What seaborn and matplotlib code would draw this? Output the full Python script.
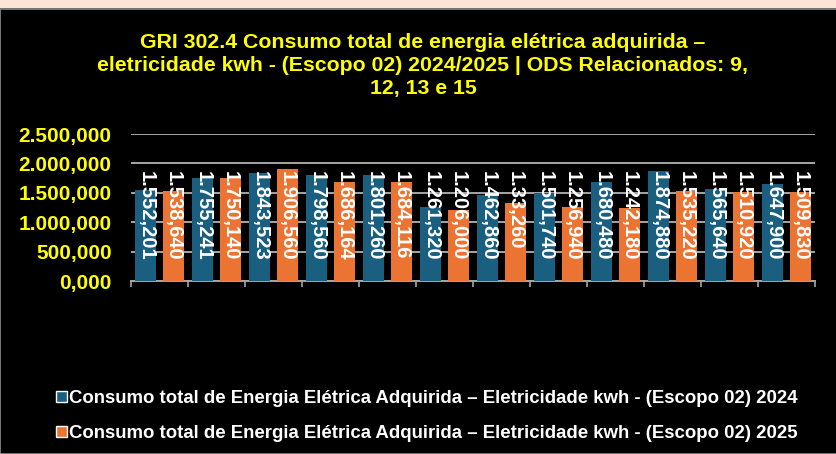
#!/usr/bin/env python3
"""GRI 302.4 - consumo de energia eletrica adquirida, 2024 x 2025."""

import matplotlib

matplotlib.use("Agg")
import matplotlib.pyplot as plt
import pandas as pd
import seaborn as sns
from matplotlib.patches import Patch, Rectangle

# dados (12 periodos)
periods = list(range(1, 13))
kwh_2024 = [1552201, 1755241, 1843523, 1798560, 1801260, 1261320,
            1462860, 1501740, 1680480, 1874880, 1565640, 1647900]
kwh_2025 = [1538640, 1750140, 1906560, 1686164, 1684116, 1206000,
            1333260, 1256940, 1242180, 1535220, 1510920, 1509830]
labels_2024 = ["1.552,201", "1.755,241", "1.843,523", "1.798,560", "1.801,260", "1.261,320",
               "1.462,860", "1.501,740", "1.680,480", "1.874,880", "1.565,640", "1.647,900"]
labels_2025 = ["1.538,640", "1.750,140", "1.906,560", "1.686,164", "1.684,116", "1.206,000",
               "1.33,260", "1.256,940", "1.242,180", "1.535,220", "1.510,920", "1.509,830"]
series_names = [
    "Consumo total de Energia Elétrica Adquirida – Eletricidade kwh - (Escopo 02) 2024",
    "Consumo total de Energia Elétrica Adquirida – Eletricidade kwh - (Escopo 02) 2025",
]
y_ticks = [0, 500000, 1000000, 1500000, 2000000, 2500000]
y_tick_labels = ["0,000", "500,000", "1.000,000", "1.500,000", "2.000,000", "2.500,000"]
title = ("GRI 302.4 Consumo total de energia elétrica adquirida –\n"
         "eletricidade kwh - (Escopo 02) 2024/2025 | ODS Relacionados: 9,\n"
         "12, 13 e 15")

BLUE = "#1A5F80"
ORANGE = "#EC7432"
YELLOW = "#FFFF00"
GRID = "#A6A6A6"


def main() -> None:
    sns.set_theme(style="dark")
    plt.rcParams["font.family"] = ["Liberation Sans", "DejaVu Sans"]

    df = pd.DataFrame({
        "periodo": periods * 2,
        "kwh": kwh_2024 + kwh_2025,
        "serie": [series_names[0]] * 12 + [series_names[1]] * 12,
    })

    fig = plt.figure(figsize=(8.37, 4.54), dpi=100, facecolor="black")
    # faixa clara no topo
    fig.patches.append(Rectangle((0, 1 - 8 / 454), 1, 8 / 454, transform=fig.transFigure,
                                 facecolor="#FCE4D6", edgecolor="none", zorder=0))
    fig.patches.append(Rectangle((0.5 / 837, 0), 1, 1 - 8.5 / 454, transform=fig.transFigure,
                                 facecolor="none", edgecolor="#8C8C8C", lw=1.2, zorder=1))

    ax = fig.add_axes([131 / 837, 1 - 281 / 454, 684 / 837, 147 / 454])
    ax.set_facecolor("black")
    sns.barplot(data=df, x="periodo", y="kwh", hue="serie", palette=[BLUE, ORANGE],
                width=0.96, gap=0.23, saturation=1, legend=False, ax=ax, zorder=3,
                edgecolor="none", linewidth=0)

    ax.set_ylim(0, 2500000)
    ax.set_xlim(-0.5, 11.5)
    ax.set_yticks(y_ticks)
    ax.set_yticklabels(y_tick_labels, color=YELLOW, fontsize=15, fontweight="bold")
    ax.set_xticks([i - 0.5 for i in range(13)])
    ax.set_xticklabels([])
    ax.tick_params(axis="y", length=0, pad=14)
    ax.tick_params(axis="x", length=4, width=1.2, color=GRID, direction="out", bottom=True)
    ax.set_xlabel("")
    ax.set_ylabel("")
    ax.yaxis.grid(True, color=GRID, lw=1.4, zorder=0)
    ax.xaxis.grid(False)
    for side in ["top", "right", "left"]:
        ax.spines[side].set_visible(False)
    ax.spines["bottom"].set_color(GRID)
    ax.spines["bottom"].set_linewidth(1.4)

    bars = ax.patches
    texts = labels_2024 + labels_2025
    for bar, txt in zip(bars, texts):
        cx = bar.get_x() + bar.get_width() / 2
        ax.text(cx, 1870000, txt, rotation=-90, ha="center", va="top",
                color="white", fontsize=14.5, fontweight="bold", zorder=5)

    fig.text(423 / 837, 1 - 33 / 454, title, ha="center", va="top", color=YELLOW,
             fontsize=15.3, fontweight="bold", linespacing=1.26)

    handles = [Patch(facecolor=BLUE), Patch(facecolor=ORANGE)]
    leg = fig.legend(handles, series_names, loc="upper left",
                     bbox_to_anchor=(49 / 837, 1 - 383 / 454), frameon=False,
                     fontsize=13.4, handlelength=0.55, handleheight=0.55,
                     handletextpad=0.15, labelspacing=0.95, borderaxespad=0)
    for t in leg.get_texts():
        t.set_color("white")
        t.set_fontweight("bold")

    fig.savefig("out.png", dpi=100, facecolor=fig.get_facecolor())
    plt.close(fig)


if __name__ == "__main__":
    main()
